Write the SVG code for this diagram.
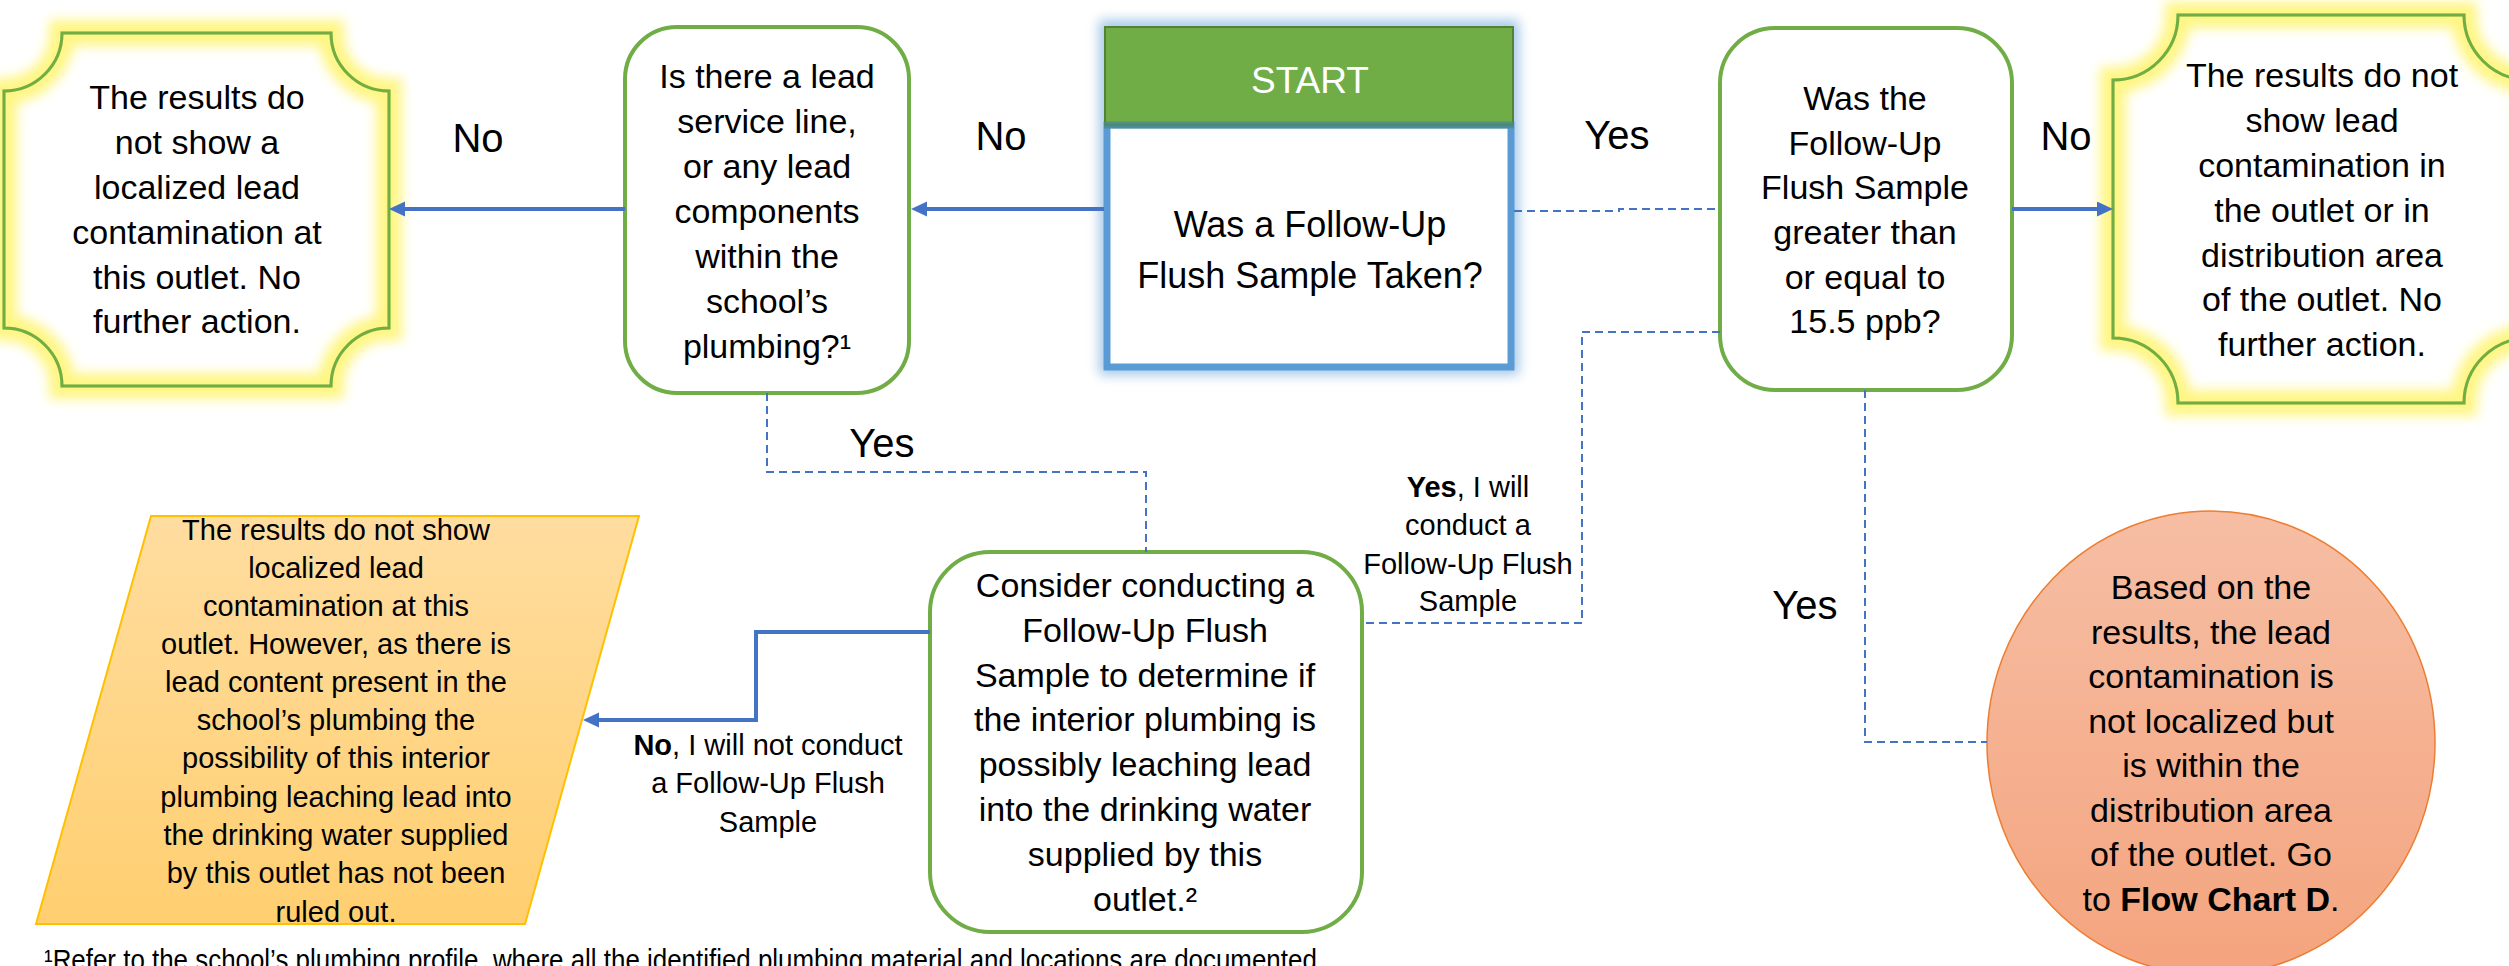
<svg xmlns="http://www.w3.org/2000/svg" width="2509" height="966" viewBox="0 0 2509 966">
<style>
text{font-family:"Liberation Sans",Arial,sans-serif;fill:#000}
.t{font-size:34px;text-anchor:middle}
.s{font-size:29px;text-anchor:middle}
.lab{font-size:40px;text-anchor:middle}
.b{font-weight:bold}
.box{fill:#fff;stroke:#70AD47;stroke-width:4}
.notch{fill:#fff;stroke:#70AD47;stroke-width:3}
.glowy{fill:none;stroke:#FFF35C;stroke-width:26;opacity:0.75}
.solid{fill:none;stroke:#4472C4;stroke-width:4}
.dash{fill:none;stroke:#4472C4;stroke-width:2;stroke-dasharray:8 5}
</style>
<defs>
<filter id="blur" x="-20%" y="-20%" width="140%" height="140%"><feGaussianBlur stdDeviation="6"/></filter>
<marker id="arr" markerUnits="userSpaceOnUse" markerWidth="16" markerHeight="16" refX="6" refY="7.5" orient="auto"><path d="M0,0 L16,7.5 L0,15 z" fill="#4472C4"/></marker>
<linearGradient id="gOr" x1="0" y1="0" x2="0" y2="1"><stop offset="0" stop-color="#FFDDA0"/><stop offset="1" stop-color="#FFCF70"/></linearGradient>
<linearGradient id="gRd" x1="0" y1="0" x2="0" y2="1"><stop offset="0" stop-color="#F6BEA4"/><stop offset="1" stop-color="#F4A47E"/></linearGradient>
</defs>

<g id="start">
<rect x="1107" y="28" width="404" height="339" fill="none" stroke="#5B9BD5" stroke-width="16" opacity="0.55" filter="url(#blur)"/>
<rect x="1107" y="125" width="404" height="242" fill="#fff" stroke="#5B9BD5" stroke-width="7"/>
<rect x="1105" y="27" width="408" height="98" fill="#70AD47" stroke="#548235" stroke-width="2"/>
<line x1="1104" y1="125" x2="1514" y2="125" stroke="#4A8A8A" stroke-width="7" opacity="0.8"/>
<text x="1310" y="93" style="font-size:37px;text-anchor:middle;fill:#fff">START</text>
<text x="1310" y="237" style="font-size:36px;text-anchor:middle">Was a Follow-Up</text>
<text x="1310" y="288" style="font-size:36px;text-anchor:middle">Flush Sample Taken?</text>
</g>

<g id="no-localized">
<path class="notch" d="M62 33 H331 A58 58 0 0 0 389 91 V328 A58 58 0 0 0 331 386 H62 A58 58 0 0 0 4 328 V91 A58 58 0 0 0 62 33 Z"/>
<path class="glowy" filter="url(#blur)" d="M62 33 H331 A58 58 0 0 0 389 91 V328 A58 58 0 0 0 331 386 H62 A58 58 0 0 0 4 328 V91 A58 58 0 0 0 62 33 Z"/>
<path fill="none" stroke="#70AD47" stroke-width="3" d="M62 33 H331 A58 58 0 0 0 389 91 V328 A58 58 0 0 0 331 386 H62 A58 58 0 0 0 4 328 V91 A58 58 0 0 0 62 33 Z"/>
<text class="t" x="197" y="109">The results do</text>
<text class="t" x="197" y="154">not show a</text>
<text class="t" x="197" y="199">localized lead</text>
<text class="t" x="197" y="244">contamination at</text>
<text class="t" x="197" y="289">this outlet. No</text>
<text class="t" x="197" y="333">further action.</text>
</g>

<g id="lead-line">
<rect class="box" x="625" y="27" width="284" height="366" rx="52" ry="52"/>
<text class="t" x="767" y="88">Is there a lead</text>
<text class="t" x="767" y="133">service line,</text>
<text class="t" x="767" y="178">or any lead</text>
<text class="t" x="767" y="223">components</text>
<text class="t" x="767" y="268">within the</text>
<text class="t" x="767" y="313">school’s</text>
<text class="t" x="767" y="358">plumbing?¹</text>
</g>

<g id="greater">
<rect class="box" x="1720" y="28" width="292" height="362" rx="55" ry="55"/>
<text class="t" x="1865" y="110">Was the</text>
<text class="t" x="1865" y="155">Follow-Up</text>
<text class="t" x="1865" y="199">Flush Sample</text>
<text class="t" x="1865" y="244">greater than</text>
<text class="t" x="1865" y="289">or equal to</text>
<text class="t" x="1865" y="333">15.5 ppb?</text>
</g>

<g id="no-contamination">
<path class="notch" d="M2178 15 H2464 A65 65 0 0 0 2529 80 V338 A65 65 0 0 0 2464 403 H2178 A65 65 0 0 0 2113 338 V80 A65 65 0 0 0 2178 15 Z"/>
<path class="glowy" filter="url(#blur)" d="M2178 15 H2464 A65 65 0 0 0 2529 80 V338 A65 65 0 0 0 2464 403 H2178 A65 65 0 0 0 2113 338 V80 A65 65 0 0 0 2178 15 Z"/>
<path fill="none" stroke="#70AD47" stroke-width="3" d="M2178 15 H2464 A65 65 0 0 0 2529 80 V338 A65 65 0 0 0 2464 403 H2178 A65 65 0 0 0 2113 338 V80 A65 65 0 0 0 2178 15 Z"/>
<text class="t" x="2322" y="87">The results do not</text>
<text class="t" x="2322" y="132">show lead</text>
<text class="t" x="2322" y="177">contamination in</text>
<text class="t" x="2322" y="222">the outlet or in</text>
<text class="t" x="2322" y="267">distribution area</text>
<text class="t" x="2322" y="311">of the outlet. No</text>
<text class="t" x="2322" y="356">further action.</text>
</g>

<g id="consider">
<rect class="box" x="930" y="552" width="432" height="380" rx="60" ry="60"/>
<text class="t" x="1145" y="597">Consider conducting a</text>
<text class="t" x="1145" y="642">Follow-Up Flush</text>
<text class="t" x="1145" y="687">Sample to determine if</text>
<text class="t" x="1145" y="731">the interior plumbing is</text>
<text class="t" x="1145" y="776">possibly leaching lead</text>
<text class="t" x="1145" y="821">into the drinking water</text>
<text class="t" x="1145" y="866">supplied by this</text>
<text class="t" x="1145" y="911">outlet.²</text>
</g>

<g id="not-ruled-out">
<path d="M151 516 H639 L525 924 H36 Z" fill="url(#gOr)" stroke="#FFC000" stroke-width="2"/>
<text class="s" x="336" y="540">The results do not show</text>
<text class="s" x="336" y="578">localized lead</text>
<text class="s" x="336" y="616">contamination at this</text>
<text class="s" x="336" y="654">outlet. However, as there is</text>
<text class="s" x="336" y="692">lead content present in the</text>
<text class="s" x="336" y="730">school’s plumbing the</text>
<text class="s" x="336" y="768">possibility of this interior</text>
<text class="s" x="336" y="807">plumbing leaching lead into</text>
<text class="s" x="336" y="845">the drinking water supplied</text>
<text class="s" x="336" y="883">by this outlet has not been</text>
<text class="s" x="336" y="922">ruled out.</text>
</g>

<g id="flow-chart-d">
<ellipse cx="2211" cy="743" rx="224" ry="232" fill="url(#gRd)" stroke="#ED7D31" stroke-width="1.5"/>
<text class="t" x="2211" y="599">Based on the</text>
<text class="t" x="2211" y="644">results, the lead</text>
<text class="t" x="2211" y="688">contamination is</text>
<text class="t" x="2211" y="733">not localized but</text>
<text class="t" x="2211" y="777">is within the</text>
<text class="t" x="2211" y="822">distribution area</text>
<text class="t" x="2211" y="866">of the outlet. Go</text>
<text class="t" x="2211" y="911">to <tspan class="b">Flow Chart D</tspan>.</text>
</g>

<g id="footnote">
<text x="44" y="970" style="font-size:29px" textLength="1280" lengthAdjust="spacingAndGlyphs">¹Refer to the school’s plumbing profile, where all the identified plumbing material and locations are documented.</text>
</g>

<g id="connectors">
<path class="solid" d="M1104 209 H921" marker-end="url(#arr)"/>
<path class="solid" d="M625 209 H399" marker-end="url(#arr)"/>
<path class="solid" d="M2012 209 H2103" marker-end="url(#arr)"/>
<path class="solid" d="M930 632 H756 V720 H593" marker-end="url(#arr)"/>
<path class="dash" d="M1514 211 H1619 V209 H1720"/>
<path class="dash" d="M1720 332 H1582 V623 H1362"/>
<path class="dash" d="M767 393 V472 H1146 V552"/>
<path class="dash" d="M1865 390 V742 H1987"/>
<text class="lab" x="478" y="152">No</text>
<text class="lab" x="1001" y="150">No</text>
<text class="lab" x="1617" y="149">Yes</text>
<text class="lab" x="2066" y="150">No</text>
<text class="lab" x="882" y="457">Yes</text>
<text class="lab" x="1805" y="619">Yes</text>
<text class="s" x="1468" y="497"><tspan class="b">Yes</tspan>, I will</text>
<text class="s" x="1468" y="535">conduct a</text>
<text class="s" x="1468" y="574">Follow-Up Flush</text>
<text class="s" x="1468" y="611">Sample</text>
<text class="s" x="768" y="755"><tspan class="b">No</tspan>, I will not conduct</text>
<text class="s" x="768" y="793">a Follow-Up Flush</text>
<text class="s" x="768" y="832">Sample</text>
</g>
</svg>
